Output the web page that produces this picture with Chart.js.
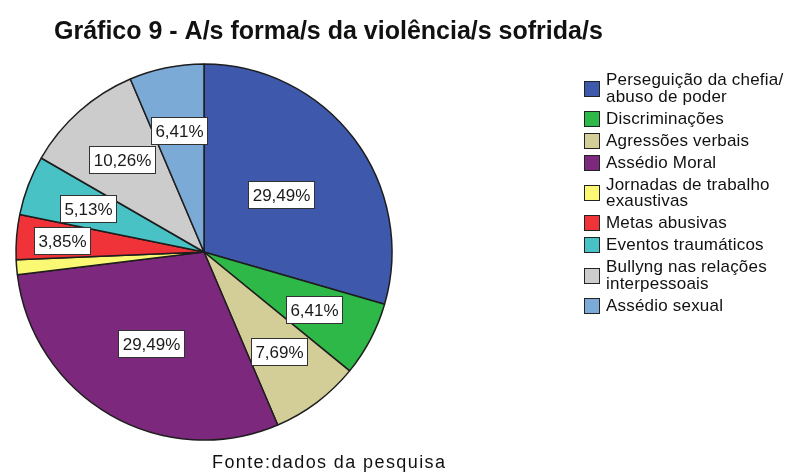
<!DOCTYPE html>
<html>
<head>
<meta charset="utf-8">
<script src="https://cdn.jsdelivr.net/npm/chart.js@4"></script>
<style>
  body { margin: 0; background: #fff; }
  #wrap { position: relative; width: 787px; height: 473px; }
  #legend {
    position: absolute; left: 584px; top: 72px; margin: 0; padding: 0; list-style: none;
    font-family: "Liberation Sans", Arial, sans-serif; font-size: 17px; letter-spacing: 0.2px;
    color: #111; line-height: 16.5px;
  }
  #legend li { display: flex; align-items: center; margin-bottom: 5.5px; }
  #legend .box {
    width: 14px; height: 14px; border: 1px solid #222; margin-right: 6px; flex: none;
  }
</style>
</head>
<body>
<div id="wrap">
  <canvas id="pie" width="787" height="473"></canvas>
  <ul id="legend"></ul>
</div>
<script>
const categories = [
  ['Perseguição da chefia/', 'abuso de poder'],
  ['Discriminações'],
  ['Agressões verbais'],
  ['Assédio Moral'],
  ['Jornadas de trabalho', 'exaustivas'],
  ['Metas abusivas'],
  ['Eventos traumáticos'],
  ['Bullyng nas relações', 'interpessoais'],
  ['Assédio sexual']
];
const percents = [29.49, 6.41, 7.69, 29.49, 1.28, 3.85, 5.13, 10.26, 6.41];
const colors = ['#3e58ac', '#2eb848', '#d3ce97', '#7c287d', '#fbf873', '#ef3338', '#48c2c5', '#cccccc', '#7aaad5'];

// how far out (share of the radius) each value box sits
const labelDepth = [0.51, 0.66, 0.66, 0.56, 0.66, 0.76, 0.66, 0.66, 0.66];

const fmt = v => v.toFixed(2).replace('.', ',') + '%';

const boxLabels = {
  id: 'boxLabels',
  afterDatasetsDraw(chart) {
    const ctx = chart.ctx;
    const arcs = chart.getDatasetMeta(0).data;
    ctx.save();
    ctx.font = '17px "Liberation Sans", Arial, sans-serif';
    ctx.textAlign = 'center';
    ctx.textBaseline = 'middle';
    arcs.forEach((arc, i) => {
      if (percents[i] < 2) return;
      const { x, y, startAngle, endAngle, outerRadius } = arc.getProps(['x', 'y', 'startAngle', 'endAngle', 'outerRadius'], true);
      const mid = (startAngle + endAngle) / 2;
      const r = outerRadius * labelDepth[i];
      const cx = x + Math.cos(mid) * r;
      const cy = y + Math.sin(mid) * r;
      const text = fmt(percents[i]);
      const w = Math.round(ctx.measureText(text).width + 8);
      const h = 27;
      const bx = Math.round(cx - w / 2) + 0.5, by = Math.round(cy - h / 2) + 0.5;
      ctx.fillStyle = '#fff';
      ctx.fillRect(bx, by, w, h);
      ctx.strokeStyle = '#333';
      ctx.lineWidth = 1;
      ctx.strokeRect(bx, by, w, h);
      ctx.fillStyle = '#1a1a1a';
      ctx.fillText(text, bx + w / 2, by + h / 2 + 1);
    });
    ctx.restore();
  }
};

const headings = {
  id: 'headings',
  afterDraw(chart) {
    const ctx = chart.ctx;
    ctx.save();
    ctx.fillStyle = '#111';
    ctx.textBaseline = 'alphabetic';
    ctx.textAlign = 'left';
    ctx.font = 'bold 25px "Liberation Sans", Arial, sans-serif';
    ctx.fillText('Gráfico 9 - A/s forma/s da violência/s sofrida/s', 54, 39);
    ctx.font = '18px "Liberation Sans", Arial, sans-serif';
    ctx.letterSpacing = '1.4px';
    ctx.fillText('Fonte:dados da pesquisa', 212, 468);
    ctx.restore();
  }
};

new Chart(document.getElementById('pie'), {
  type: 'pie',
  data: {
    labels: categories.map(c => c.join(' ')),
    datasets: [{
      data: percents,
      backgroundColor: colors,
      borderColor: '#1e1e1e',
      borderWidth: 1.5
    }]
  },
  options: {
    responsive: false,
    animation: false,
    radius: 188,
    layout: { padding: { left: 16, right: 395, top: 64, bottom: 33 } },
    plugins: {
      legend: { display: false },
      tooltip: { enabled: false }
    }
  },
  plugins: [boxLabels, headings]
});

const legend = document.getElementById('legend');
categories.forEach((lines, i) => {
  const li = document.createElement('li');
  const box = document.createElement('span');
  box.className = 'box';
  box.style.background = colors[i];
  const txt = document.createElement('span');
  txt.innerHTML = lines.join('<br>');
  li.appendChild(box);
  li.appendChild(txt);
  legend.appendChild(li);
});
</script>
</body>
</html>
